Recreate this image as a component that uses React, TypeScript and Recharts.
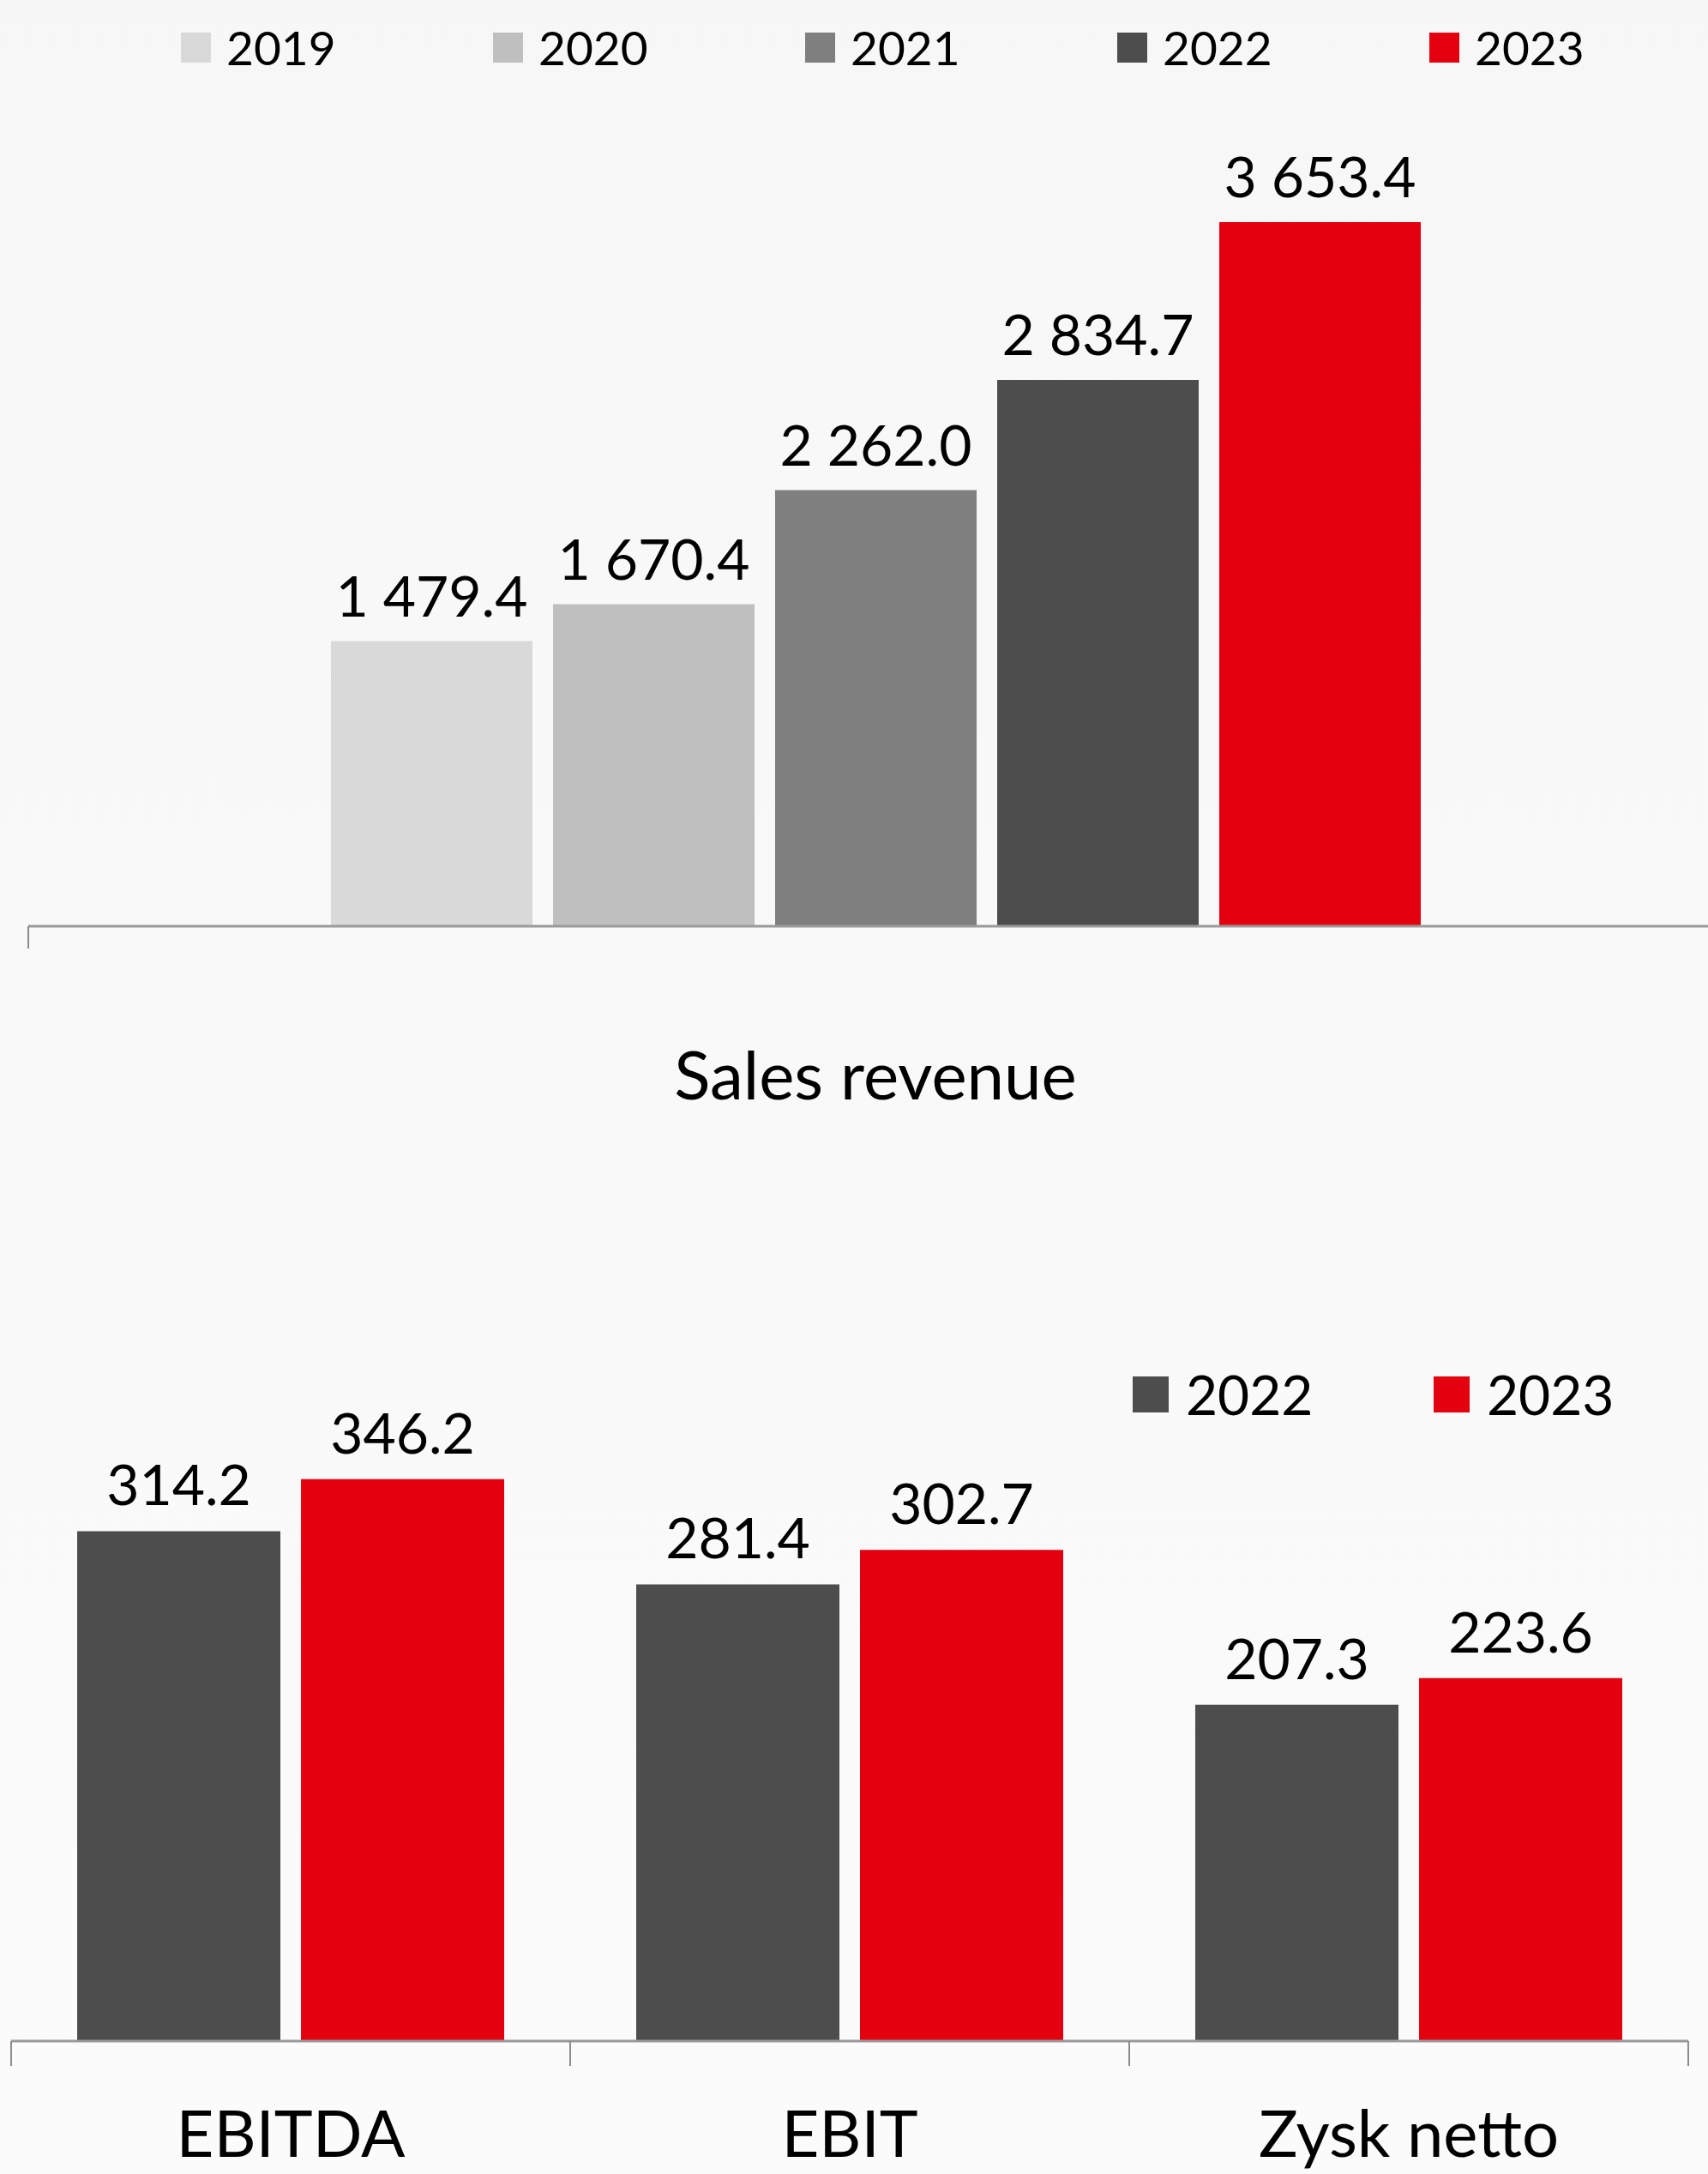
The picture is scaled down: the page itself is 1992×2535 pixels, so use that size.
import React from 'react';
import { BarChart, Bar, XAxis, YAxis, LabelList, Legend } from 'recharts';

const FONT = 'Lato, "Open Sans", sans-serif';

const revenueCategories = ['Sales revenue'];
const revenueYears = ['2019', '2020', '2021', '2022', '2023'];
const revenueValues = [1479.4, 1670.4, 2262.0, 2834.7, 3653.4];
const revenueColors = ['#d9d9d9', '#bfbfbf', '#7f7f7f', '#4d4d4d', '#e3000f'];

const profitCategories = ['EBITDA', 'EBIT', 'Zysk netto'];
const profitYears = ['2022', '2023'];
const profit2022 = [314.2, 281.4, 207.3];
const profit2023 = [346.2, 302.7, 223.6];
const profitColors = ['#4d4d4d', '#e3000f'];

const revenueData = revenueCategories.map((name) => {
  const row: any = { name };
  revenueYears.forEach((y, i) => {
    row['y' + y] = revenueValues[i];
  });
  return row;
});

const profitData = profitCategories.map((name, i) => ({
  name,
  y2022: profit2022[i],
  y2023: profit2023[i],
}));

const fmt = (v: any) => {
  const n = Number(v);
  const [ip, dp] = n.toFixed(1).split('.');
  return ip.replace(/\B(?=(\d{3})+(?!\d))/g, ' ') + '.' + dp;
};

const makeTick = (baseline: number, tickLen: number, fallbackHalf: number, fontSize: number) => (props: any) => {
  const { x, y, payload } = props;
  const half = payload && payload.offset ? payload.offset : fallbackHalf;
  return (
    <g>
      <line x1={x - half} x2={x - half} y1={y} y2={y + tickLen} stroke="#8c8c8c" strokeWidth={2} />
      <line x1={x + half} x2={x + half} y1={y} y2={y + tickLen} stroke="#8c8c8c" strokeWidth={2} />
      <text x={x} y={y + baseline} textAnchor="middle" fill="#000" fontSize={fontSize} fontFamily={FONT}>
        {payload.value}
      </text>
    </g>
  );
};

const makeLegend = (years: string[], colors: string[], itemWidth: number, box: number, gap: number, fontSize: number) => () => (
  <div style={{ display: 'flex', alignItems: 'center', fontFamily: FONT }}>
    {years.map((y, i) => (
      <div key={y} style={{ width: itemWidth, flexShrink: 0, display: 'flex', alignItems: 'center' }}>
        <div style={{ width: box, height: box, flexShrink: 0, background: colors[i], marginRight: gap }} />
        <span style={{ fontSize, lineHeight: 1, color: '#000' }}>{y}</span>
      </div>
    ))}
  </div>
);

export default function App() {
  return (
    <div style={{ position: 'absolute', left: 0, top: 0, width: 1992, height: 2535, overflow: 'hidden' }}>
      <div
        style={{
          position: 'absolute',
          left: 0,
          top: 0,
          width: 1992,
          height: 1330,
          overflow: 'hidden',
          background: 'linear-gradient(#f7f7f7, #f9f9f9)',
        }}
      >
        <BarChart
          width={2009}
          height={1330}
          data={revenueData}
          margin={{ top: 181, right: 0, left: 33, bottom: 0 }}
          barGap={24}
          style={{ fontFamily: FONT }}
        >
          <XAxis
            dataKey="name"
            type="category"
            height={250}
            tickSize={0}
            tickMargin={0}
            axisLine={{ stroke: '#9a9a9a', strokeWidth: 3 }}
            tickLine={false}
            tick={makeTick(202, 26, 988, 78)}
            interval={0}
          />
          <YAxis hide domain={[0, 4000]} />
          <Legend
            layout="horizontal"
            verticalAlign="middle"
            align="center"
            content={makeLegend(revenueYears, revenueColors, 364, 35, 18, 55)}
            wrapperStyle={{ position: 'absolute', top: 28, left: 211, width: 1790, height: 70 }}
          />
          {revenueYears.map((y, i) => (
            <Bar key={y} dataKey={'y' + y} name={y} fill={revenueColors[i]} barSize={235} isAnimationActive={false}>
              <LabelList dataKey={'y' + y} position="top" offset={29} formatter={fmt} fill="#000" fontSize={66} fontFamily={FONT} />
            </Bar>
          ))}
        </BarChart>
      </div>
      <div
        style={{
          position: 'absolute',
          left: 0,
          top: 1330,
          width: 1992,
          height: 1205,
          overflow: 'hidden',
          background: 'linear-gradient(#f9f9f9, #fbfbfb)',
        }}
      >
        <BarChart
          width={1992}
          height={1205}
          data={profitData}
          margin={{ top: 293, right: 23, left: 13, bottom: 0 }}
          barGap={24}
          style={{ fontFamily: FONT }}
        >
          <XAxis
            dataKey="name"
            type="category"
            height={155}
            tickSize={0}
            tickMargin={0}
            axisLine={{ stroke: '#9a9a9a', strokeWidth: 3 }}
            tickLine={false}
            tick={makeTick(135, 29, 326, 76)}
            interval={0}
          />
          <YAxis hide domain={[0, 400]} />
          <Legend
            layout="horizontal"
            verticalAlign="middle"
            align="center"
            content={makeLegend(profitYears, profitColors, 351, 42, 20, 64)}
            wrapperStyle={{ position: 'absolute', top: 264, left: 1321, width: 660, height: 84 }}
          />
          {profitYears.map((y, i) => (
            <Bar key={y} dataKey={'y' + y} name={y} fill={profitColors[i]} barSize={237} isAnimationActive={false}>
              <LabelList dataKey={'y' + y} position="top" offset={30} formatter={fmt} fill="#000" fontSize={66} fontFamily={FONT} />
            </Bar>
          ))}
        </BarChart>
      </div>
    </div>
  );
}
